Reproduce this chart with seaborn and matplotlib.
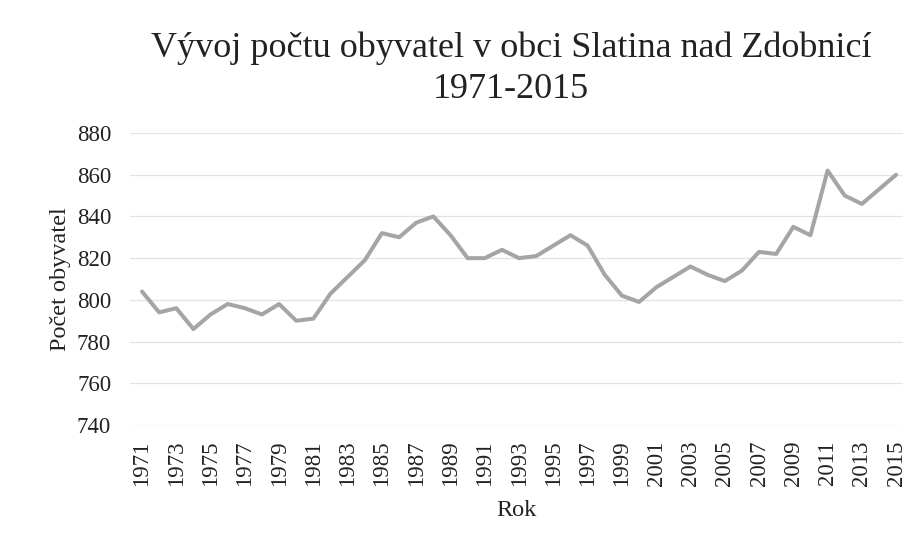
import matplotlib
matplotlib.use("Agg")
import matplotlib.pyplot as plt
import seaborn as sns
import pandas as pd

years = list(range(1971, 2016))
population = [804, 794, 796, 786, 793, 798, 796, 793, 798, 790,
              791, 803, 811, 819, 832, 830, 837, 840, 831, 820,
              820, 824, 820, 821, 826, 831, 826, 812, 802, 799,
              806, 811, 816, 812, 809, 814, 823, 822, 835, 831,
              862, 850, 846, 853, 860]
tick_years = years[::2]

title_text = "Vývoj počtu obyvatel v obci Slatina nad Zdobnicí\n1971-2015"
x_label = "Rok"
y_label = "Počet obyvatel"

sns.set_theme(style="white")
plt.rcParams['font.family'] = ['Liberation Serif', 'DejaVu Serif']

df = pd.DataFrame({"Rok": years, "Pocet": population})

fig = plt.figure(figsize=(9.16, 5.46), dpi=100)
ax = fig.add_axes([130/916, 1-425/546, (903-130)/916, (425-133)/546])

sns.lineplot(data=df, x="Rok", y="Pocet", ax=ax, color="#a5a5a5",
             linewidth=2.9, solid_joinstyle="round", solid_capstyle="round")

ax.set_ylim(740, 880)
ax.set_yticks(range(740, 881, 20))
ax.set_xlim(1970.3, 2015.4)
ax.set_xticks(tick_years)
ax.set_xticklabels([str(y) for y in tick_years], rotation=90)
ax.tick_params(axis='both', length=0, labelsize=16.5, colors="#222222")
ax.tick_params(axis='x', pad=11)
ax.tick_params(axis='y', pad=13.5)
ax.grid(axis='y', color="#e3e3e3", linewidth=0.9)
ax.grid(axis='x', visible=False)
for s in ax.spines.values():
    s.set_visible(False)

ax.set_xlabel(x_label, fontsize=17.5, color="#222222", labelpad=10)
ax.set_ylabel(y_label, fontsize=17.5, color="#222222", labelpad=4)

fig.text(0.558, 0.874, title_text, ha="center", va="center", fontsize=26,
         color="#222222", linespacing=1.32)

fig.savefig("out.png", dpi=100, facecolor="white")
